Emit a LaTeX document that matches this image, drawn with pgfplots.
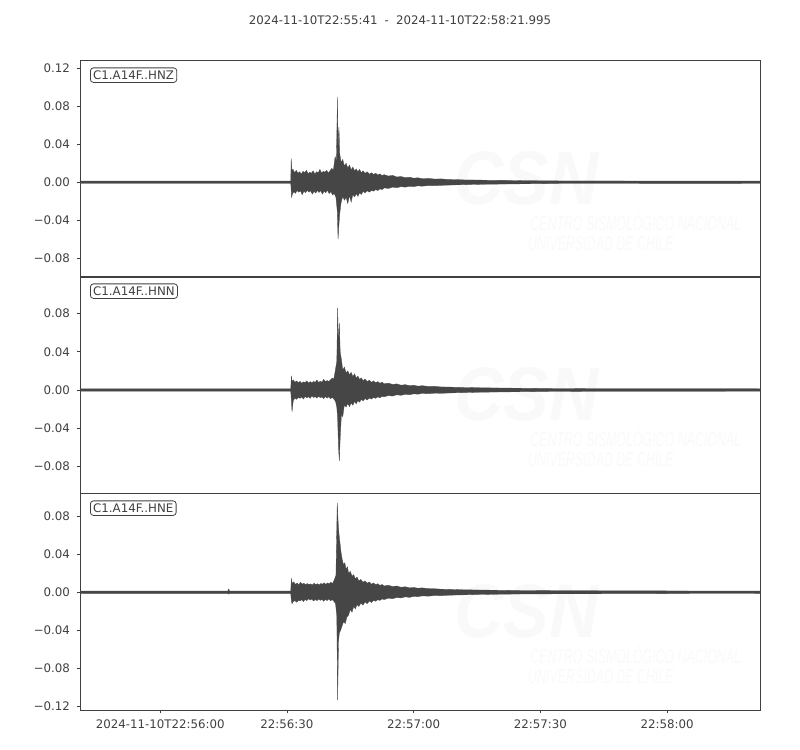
\documentclass[border=0pt]{standalone}
\usepackage{fontspec}
\setmainfont{DejaVu Sans}
\newfontfamily\wmfont{Liberation Sans}
\usepackage{pgfplots}
\pgfplotsset{compat=1.18}

\definecolor{ink}{HTML}{404040}
\definecolor{wave}{HTML}{464646}
\definecolor{wmark}{HTML}{F9F9F9}

\newcommand{\tickfont}{\fontsize{11.8bp}{14bp}\selectfont}

\pgfplotsset{
  seis/.style={
    scale only axis,
    width=680bp, height=216.5bp,
    anchor=south west,
    xmin=0, xmax=160.995,
    axis line style={ink, line width=0.8bp},
    tick style={ink, line width=0.8bp},
    major tick length=3.5bp,
    tick align=outside,
    xtick pos=bottom, ytick pos=left,
    ticklabel style={font=\tickfont, text=ink},
    yticklabel style={xshift=-3bp},
    xticklabel style={yshift=-3bp},
    xtick=\empty,
  },
  trace/.style={fill=wave, draw=wave, line width=0.3bp, mark=none},
}
\tikzset{
  station/.style={draw=ink, rounded corners=3bp, anchor=north west,
    inner sep=2.8bp, text=ink, font=\tickfont, line width=0.8bp,
    xshift=10bp, yshift=-7bp},
}

% faint CSN watermark, same place in every panel
\newcommand{\watermark}{%
  \node[text=wmark, xscale=0.9, inner sep=0pt, font={\wmfont\bfseries\itshape\fontsize{76bp}{76bp}\selectfont}]
    at (rel axis cs:0.657,0.456) {CSN};
  \node[text=wmark, anchor=west, xscale=0.62, inner sep=0pt, font={\wmfont\itshape\fontsize{20bp}{20bp}\selectfont}]
    at (rel axis cs:0.662,0.255) {CENTRO SISMOLÓGICO NACIONAL};
  \node[text=wmark, anchor=west, xscale=0.62, inner sep=0pt, font={\wmfont\itshape\fontsize{20bp}{20bp}\selectfont}]
    at (rel axis cs:0.659,0.155) {UNIVERSIDAD DE CHILE};
}

\begin{document}
\begin{tikzpicture}
\path[use as bounding box] (0,0) rectangle (800bp,750bp);

\node[text=ink, font=\tickfont] at (400bp,730bp)
  {2024-11-10T22:55:41\hspace{0.6em}-\hspace{0.6em}2024-11-10T22:58:21.995};

% ---------------- HNZ
\begin{axis}[seis, at={(80bp,473bp)},
    ymin=-0.1, ymax=0.1284,
    ytick={-0.08,-0.04,0,0.04,0.08,0.12},
    yticklabels={−0.08,−0.04,0.00,0.04,0.08,0.12}]
\watermark
\addplot[trace] coordinates {
(0,0.0012) (49.9,0.0012) (50.0,0.025) (50.15,0.012) (50.4,0.014) (50.8,0.010)
(51.2,0.0125) (51.6,0.0095) (52.0,0.011) (52.4,0.0085) (52.8,0.0115) (53.2,0.010)
(53.6,0.0125) (54.0,0.009) (54.4,0.0105) (54.8,0.0095) (55.2,0.012) (55.6,0.0085)
(56.0,0.011) (56.4,0.010) (56.8,0.0135) (57.2,0.0095) (57.6,0.0115) (58.0,0.0105)
(58.4,0.0125) (58.8,0.0095) (59.2,0.012) (59.6,0.0145) (60.0,0.013) (60.4,0.027)
(60.7,0.022) (60.95,0.090) (61.1,0.035) (61.3,0.058) (61.5,0.030) (61.8,0.021)
(62.2,0.024) (62.6,0.017) (63.0,0.020) (63.4,0.015) (63.8,0.018) (64.2,0.013)
(64.6,0.016) (65.0,0.012) (65.4,0.014) (65.8,0.011) (66.2,0.0135) (66.6,0.010)
(67.0,0.012) (67.5,0.0095) (68.0,0.011) (68.5,0.0085) (69.0,0.010) (69.5,0.008)
(70.0,0.0095) (70.5,0.0075) (71.0,0.0088) (71.5,0.007) (72.0,0.008) (73.0,0.0065)
(74.0,0.0072) (75.0,0.0055) (76.0,0.006) (77.0,0.0048) (78.0,0.0053) (79.0,0.0042)
(80.0,0.0047) (81.0,0.0038) (82.5,0.004) (84.0,0.0033) (85.5,0.0035) (87.0,0.0029)
(89.0,0.0028) (91.0,0.0024) (94.0,0.0023) (97.0,0.002) (101.0,0.0019)
(105.0,0.0016) (110.0,0.0015) (115.0,0.0013) (161,0.0012)
(161,-0.0012) (115,-0.0013) (110,-0.0015) (105,-0.0017) (101,-0.0019)
(97,-0.0021) (94,-0.0023) (91,-0.0026) (89,-0.0028) (87,-0.0031) (85.5,-0.0033)
(84.0,-0.0037) (82.5,-0.0035) (81.0,-0.0042) (80.0,-0.0038) (79.0,-0.0047)
(78.0,-0.0043) (77.0,-0.0052) (76.0,-0.0047) (75.0,-0.0058) (74.0,-0.0052)
(73.0,-0.0066) (72.0,-0.006) (71.5,-0.0078) (71.0,-0.007) (70.5,-0.0088)
(70.0,-0.0078) (69.5,-0.0095) (69.0,-0.0085) (68.5,-0.0105) (68.0,-0.009)
(67.5,-0.0112) (67.0,-0.0098) (66.6,-0.013) (66.2,-0.011) (65.8,-0.015)
(65.4,-0.012) (65.0,-0.0155) (64.6,-0.013) (64.2,-0.021) (63.8,-0.014)
(63.4,-0.0225) (63.0,-0.016) (62.6,-0.019) (62.2,-0.015) (61.8,-0.022)
(61.5,-0.033) (61.3,-0.045) (61.1,-0.060) (60.9,-0.030) (60.6,-0.016)
(60.2,-0.012) (59.8,-0.0135) (59.4,-0.010) (59.0,-0.012) (58.6,-0.0085)
(58.2,-0.011) (57.8,-0.0095) (57.4,-0.0125) (57.0,-0.009) (56.6,-0.0108)
(56.2,-0.0088) (55.8,-0.0115) (55.4,-0.0095) (55.0,-0.0125) (54.6,-0.009)
(54.2,-0.0105) (53.8,-0.0085) (53.4,-0.011) (53.0,-0.0095) (52.6,-0.0132)
(52.2,-0.009) (51.8,-0.0105) (51.4,-0.0088) (51.0,-0.0118) (50.6,-0.010)
(50.3,-0.0125) (50.1,-0.016) (49.9,-0.0012) (0,-0.0012)
};
\node[station] at (rel axis cs:0,1) {C1.A14F..HNZ};
\end{axis}

% ---------------- HNN
\begin{axis}[seis, at={(80bp,257bp)},
    ymin=-0.108, ymax=0.119,
    ytick={-0.08,-0.04,0,0.04,0.08},
    yticklabels={−0.08,−0.04,0.00,0.04,0.08}]
\watermark
\addplot[trace] coordinates {
(0,0.0013) (49.9,0.0013) (50.05,0.0147) (50.2,0.009) (50.5,0.0105) (50.9,0.008)
(51.3,0.0095) (51.7,0.0075) (52.1,0.009) (52.5,0.007) (52.9,0.0085) (53.3,0.0078)
(53.7,0.0095) (54.1,0.0072) (54.5,0.0088) (54.9,0.0075) (55.3,0.009) (55.7,0.008)
(56.1,0.0105) (56.5,0.0078) (56.9,0.0092) (57.3,0.0082) (57.7,0.0112) (58.1,0.0085)
(58.5,0.010) (58.9,0.0088) (59.3,0.0105) (59.7,0.0125) (60.1,0.0115) (60.5,0.022)
(60.8,0.030) (61.0,0.086) (61.2,0.045) (61.4,0.070) (61.6,0.040) (61.9,0.0316)
(62.2,0.021) (62.6,0.024) (63.0,0.018) (63.4,0.020) (63.8,0.016) (64.2,0.0185)
(64.6,0.014) (65.0,0.017) (65.4,0.0125) (65.8,0.0145) (66.2,0.011) (66.6,0.0128)
(67.0,0.0098) (67.5,0.0115) (68.0,0.0088) (68.5,0.0102) (69.0,0.008) (69.5,0.0095)
(70.0,0.0075) (70.5,0.0088) (71.0,0.007) (71.5,0.0082) (72.0,0.0065) (73.0,0.0072)
(74.0,0.0058) (75.0,0.0064) (76.0,0.005) (77.0,0.0056) (78.0,0.0045) (79.0,0.005)
(80.0,0.004) (81.0,0.0045) (82.5,0.0037) (84.0,0.0038) (85.5,0.0032) (87.0,0.0031)
(89.0,0.0028) (91.0,0.0026) (94.0,0.0024) (97.0,0.0022) (101,0.002) (105,0.0018)
(110,0.0016) (115,0.0015) (120,0.0014) (161,0.0013)
(161,-0.0013) (120,-0.0014) (115,-0.0015) (110,-0.0016) (105,-0.0018)
(101,-0.002) (97,-0.0022) (94,-0.0024) (91,-0.0027) (89,-0.0029) (87,-0.0032)
(85.5,-0.0035) (84.0,-0.0033) (82.5,-0.0039) (81.0,-0.0036) (80.0,-0.0044)
(79.0,-0.004) (78.0,-0.005) (77.0,-0.0045) (76.0,-0.0056) (75.0,-0.005)
(74.0,-0.0064) (73.0,-0.0058) (72.0,-0.0072) (71.5,-0.0066) (71.0,-0.0082)
(70.5,-0.0072) (70.0,-0.0088) (69.5,-0.0078) (69.0,-0.0095) (68.5,-0.0084)
(68.0,-0.0105) (67.5,-0.009) (67.0,-0.0115) (66.6,-0.0098) (66.2,-0.0128)
(65.8,-0.011) (65.4,-0.0145) (65.0,-0.012) (64.6,-0.016) (64.2,-0.0135)
(63.8,-0.0175) (63.4,-0.014) (63.0,-0.018) (62.6,-0.0155) (62.2,-0.028)
(61.9,-0.025) (61.6,-0.050) (61.4,-0.0744) (61.2,-0.060) (61.0,-0.030)
(60.8,-0.018) (60.5,-0.012) (60.1,-0.0095) (59.7,-0.0078) (59.3,-0.0092)
(58.9,-0.007) (58.5,-0.0085) (58.1,-0.0068) (57.7,-0.009) (57.3,-0.0072)
(56.9,-0.0082) (56.5,-0.0065) (56.1,-0.0085) (55.7,-0.007) (55.3,-0.0078)
(54.9,-0.0062) (54.5,-0.0088) (54.1,-0.007) (53.7,-0.0082) (53.3,-0.0068)
(52.9,-0.0095) (52.5,-0.0072) (52.1,-0.0088) (51.7,-0.0075) (51.3,-0.0098)
(50.9,-0.0085) (50.5,-0.011) (50.2,-0.0228) (50.05,-0.012) (49.9,-0.0013)
(0,-0.0013)
};
\node[station] at (rel axis cs:0,1) {C1.A14F..HNN};
\end{axis}

% ---------------- HNE
\begin{axis}[seis, at={(80bp,40bp)},
    ymin=-0.124, ymax=0.104,
    ytick={-0.12,-0.08,-0.04,0,0.04,0.08},
    yticklabels={−0.12,−0.08,−0.04,0.00,0.04,0.08},
    xtick={19,49,79,109,139},
    xticklabels={2024-11-10T22:56:00,22:56:30,22:57:00,22:57:30,22:58:00}]
\watermark
\addplot[trace] coordinates {
(0,0.0012) (35.0,0.0012) (35.2,0.0035) (35.4,0.0012) (49.9,0.0012)
(50.05,0.0144) (50.25,0.009) (50.6,0.011) (51.0,0.0082) (51.4,0.0098) (51.8,0.0078)
(52.2,0.0105) (52.6,0.0085) (53.0,0.0095) (53.4,0.0078) (53.8,0.0092) (54.2,0.0082)
(54.6,0.0088) (55.0,0.0075) (55.4,0.0095) (55.8,0.008) (56.2,0.009) (56.6,0.0078)
(57.0,0.0092) (57.4,0.0085) (57.8,0.010) (58.2,0.0082) (58.6,0.0098) (59.0,0.0088)
(59.4,0.0105) (59.8,0.0092) (60.2,0.013) (60.6,0.018) (60.9,0.094) (61.1,0.075)
(61.3,0.062) (61.5,0.054) (61.8,0.042) (62.1,0.034) (62.4,0.029) (62.7,0.031)
(63.0,0.024) (63.3,0.027) (63.6,0.020) (64.0,0.022) (64.4,0.017) (64.8,0.0185)
(65.2,0.014) (65.6,0.016) (66.0,0.012) (66.5,0.0135) (67.0,0.0105) (67.5,0.012)
(68.0,0.0095) (68.5,0.0108) (69.0,0.0085) (69.5,0.0098) (70.0,0.0078) (70.5,0.009)
(71.0,0.0072) (71.5,0.0082) (72.0,0.0066) (73.0,0.0074) (74.0,0.006) (75.0,0.0066)
(76.0,0.0052) (77.0,0.0058) (78.0,0.0046) (79.0,0.0051) (80.0,0.0042) (81.0,0.0046)
(82.5,0.0038) (84.0,0.0037) (85.5,0.0032) (87.0,0.0031) (89.0,0.0028) (91.0,0.0026)
(94.0,0.0024) (97.0,0.0022) (101,0.002) (105,0.0018) (110,0.0017) (120,0.0016)
(135,0.0015) (145,0.0013) (161,0.0012)
(161,-0.0012) (145,-0.0013) (135,-0.0015) (120,-0.0016) (110,-0.0017)
(105,-0.0018) (101,-0.002) (97,-0.0022) (94,-0.0024) (91,-0.0027) (89,-0.0029)
(87,-0.0032) (85.5,-0.0036) (84.0,-0.0034) (82.5,-0.0041) (81.0,-0.0038)
(80.0,-0.0047) (79.0,-0.0043) (78.0,-0.0054) (77.0,-0.0048) (76.0,-0.006)
(75.0,-0.0055) (74.0,-0.0068) (73.0,-0.0062) (72.0,-0.0077) (71.5,-0.007)
(71.0,-0.0086) (70.5,-0.0078) (70.0,-0.0095) (69.5,-0.0085) (69.0,-0.0108)
(68.5,-0.0092) (68.0,-0.012) (67.5,-0.0102) (67.0,-0.0135) (66.5,-0.0115)
(66.0,-0.015) (65.6,-0.013) (65.2,-0.0175) (64.8,-0.015) (64.4,-0.021)
(64.0,-0.018) (63.6,-0.024) (63.2,-0.026) (62.8,-0.033) (62.4,-0.031)
(62.0,-0.036) (61.7,-0.040) (61.4,-0.043) (61.2,-0.052) (61.0,-0.1137)
(60.8,-0.025) (60.5,-0.012) (60.1,-0.0095) (59.7,-0.0078) (59.3,-0.009)
(58.9,-0.007) (58.5,-0.0088) (58.1,-0.0072) (57.7,-0.0095) (57.3,-0.0075)
(56.9,-0.0085) (56.5,-0.007) (56.1,-0.0088) (55.7,-0.0075) (55.3,-0.0092)
(54.9,-0.0072) (54.5,-0.0082) (54.1,-0.0068) (53.7,-0.0088) (53.3,-0.0075)
(52.9,-0.0098) (52.5,-0.0078) (52.1,-0.0092) (51.7,-0.0085) (51.3,-0.0105)
(50.9,-0.0088) (50.5,-0.0098) (50.2,-0.012) (50.05,-0.0095) (49.9,-0.0012)
(35.4,-0.0012) (35.2,-0.002) (35.0,-0.0012) (0,-0.0012)
};
\node[station] at (rel axis cs:0,1) {C1.A14F..HNE};
\end{axis}
\end{tikzpicture}
\end{document}
